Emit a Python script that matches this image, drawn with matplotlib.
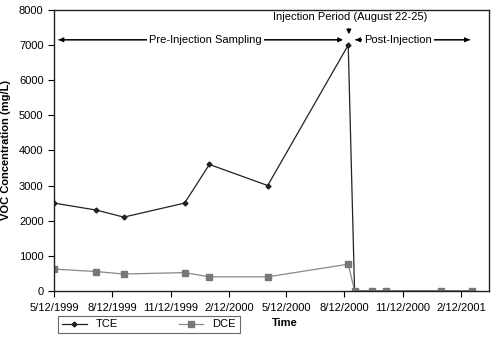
import matplotlib
matplotlib.use("Agg")
import matplotlib.pyplot as plt
import matplotlib.dates as mdates
import pandas as pd

plt.rcParams['font.family'] = ['Liberation Sans', 'DejaVu Sans']

dates = ["1999-05-12", "1999-07-18", "1999-08-30", "1999-12-04", "2000-01-12",
         "2000-04-13", "2000-08-18", "2000-08-28", "2000-09-24", "2000-10-16",
         "2001-01-12", "2001-03-01"]
tce = [2500, 2300, 2100, 2500, 3600, 3000, 7000, 0, 0, 0, 0, 0]
dce = [620, 550, 480, 520, 400, 400, 760, 0, 0, 0, 0, 0]
tick_labels = ["5/12/1999", "8/12/1999", "11/12/1999", "2/12/2000",
               "5/12/2000", "8/12/2000", "11/12/2000", "2/12/2001"]

d = pd.to_datetime(dates)
ticks = pd.to_datetime(tick_labels, format="%m/%d/%Y")

fig = plt.figure(figsize=(5.0, 3.43), dpi=100)
ax = fig.add_axes([0.108, 0.152, 0.870, 0.819])

ax.plot(d, tce, color='#222222', lw=0.9, marker='D', ms=2.5, mfc='#222222', mec='#222222', label='TCE')
ax.plot(d, dce, color='#888888', lw=0.9, marker='s', ms=4, mfc='#777777', mec='#777777', label='DCE')

ax.set_ylim(0, 8000)
ax.set_yticks(range(0, 8001, 1000))
ax.set_xlim(pd.Timestamp("1999-05-12"), pd.Timestamp("2001-03-28"))
ax.set_xticks(ticks)
ax.set_xticklabels(tick_labels)
ax.tick_params(axis='both', labelsize=8, direction='out', length=4, width=0.8, colors='black')
ax.tick_params(axis='x', pad=5)
for s in ax.spines.values():
    s.set_linewidth(1.0)
    s.set_color('#222222')

ax.set_ylabel("VOC Concentration (mg/L)", fontsize=8, fontweight='bold', labelpad=6)
fig.text(0.57, 0.058, "Time", fontsize=8, fontweight='bold', ha='center', va='center')

# annotations
y_arr = 7150
inj = pd.Timestamp("2000-08-19")
ax.annotate("", xy=(pd.Timestamp("1999-05-15"), y_arr), xytext=(inj - pd.Timedelta(days=8), y_arr),
            arrowprops=dict(arrowstyle='-|>', color='black', lw=0.8, mutation_scale=7))
ax.annotate("", xy=(inj - pd.Timedelta(days=5), y_arr), xytext=(pd.Timestamp("1999-05-15"), y_arr),
            arrowprops=dict(arrowstyle='-|>', color='black', lw=0.8, mutation_scale=7))
ax.text(pd.Timestamp("2000-01-06"), y_arr, "Pre-Injection Sampling", fontsize=8, ha='center', va='center',
        bbox=dict(facecolor='white', edgecolor='none', pad=1.5))
ax.annotate("", xy=(inj + pd.Timedelta(days=6), y_arr), xytext=(pd.Timestamp("2001-03-02"), y_arr),
            arrowprops=dict(arrowstyle='-|>', color='black', lw=0.8, mutation_scale=7))
ax.annotate("", xy=(pd.Timestamp("2001-03-02"), y_arr), xytext=(inj + pd.Timedelta(days=6), y_arr),
            arrowprops=dict(arrowstyle='-|>', color='black', lw=0.8, mutation_scale=7))
ax.text(pd.Timestamp("2000-11-05"), y_arr, "Post-Injection", fontsize=8, ha='center', va='center',
        bbox=dict(facecolor='white', edgecolor='none', pad=1.5))
ax.annotate("", xy=(inj, 7230), xytext=(inj, 7550),
            arrowprops=dict(arrowstyle='-|>', color='black', lw=0.8, mutation_scale=7))
ax.text(pd.Timestamp("2000-08-21"), 7800, "Injection Period (August 22-25)", fontsize=8,
        ha='center', va='center')

leg = fig.legend(loc='center', bbox_to_anchor=(0.298, 0.054), ncol=2, fontsize=8,
                 frameon=True, fancybox=False, edgecolor='#444444', columnspacing=5.5,
                 handlelength=2.2, borderpad=0.35)
leg.get_frame().set_linewidth(0.8)

fig.savefig("out.png", dpi=100)
